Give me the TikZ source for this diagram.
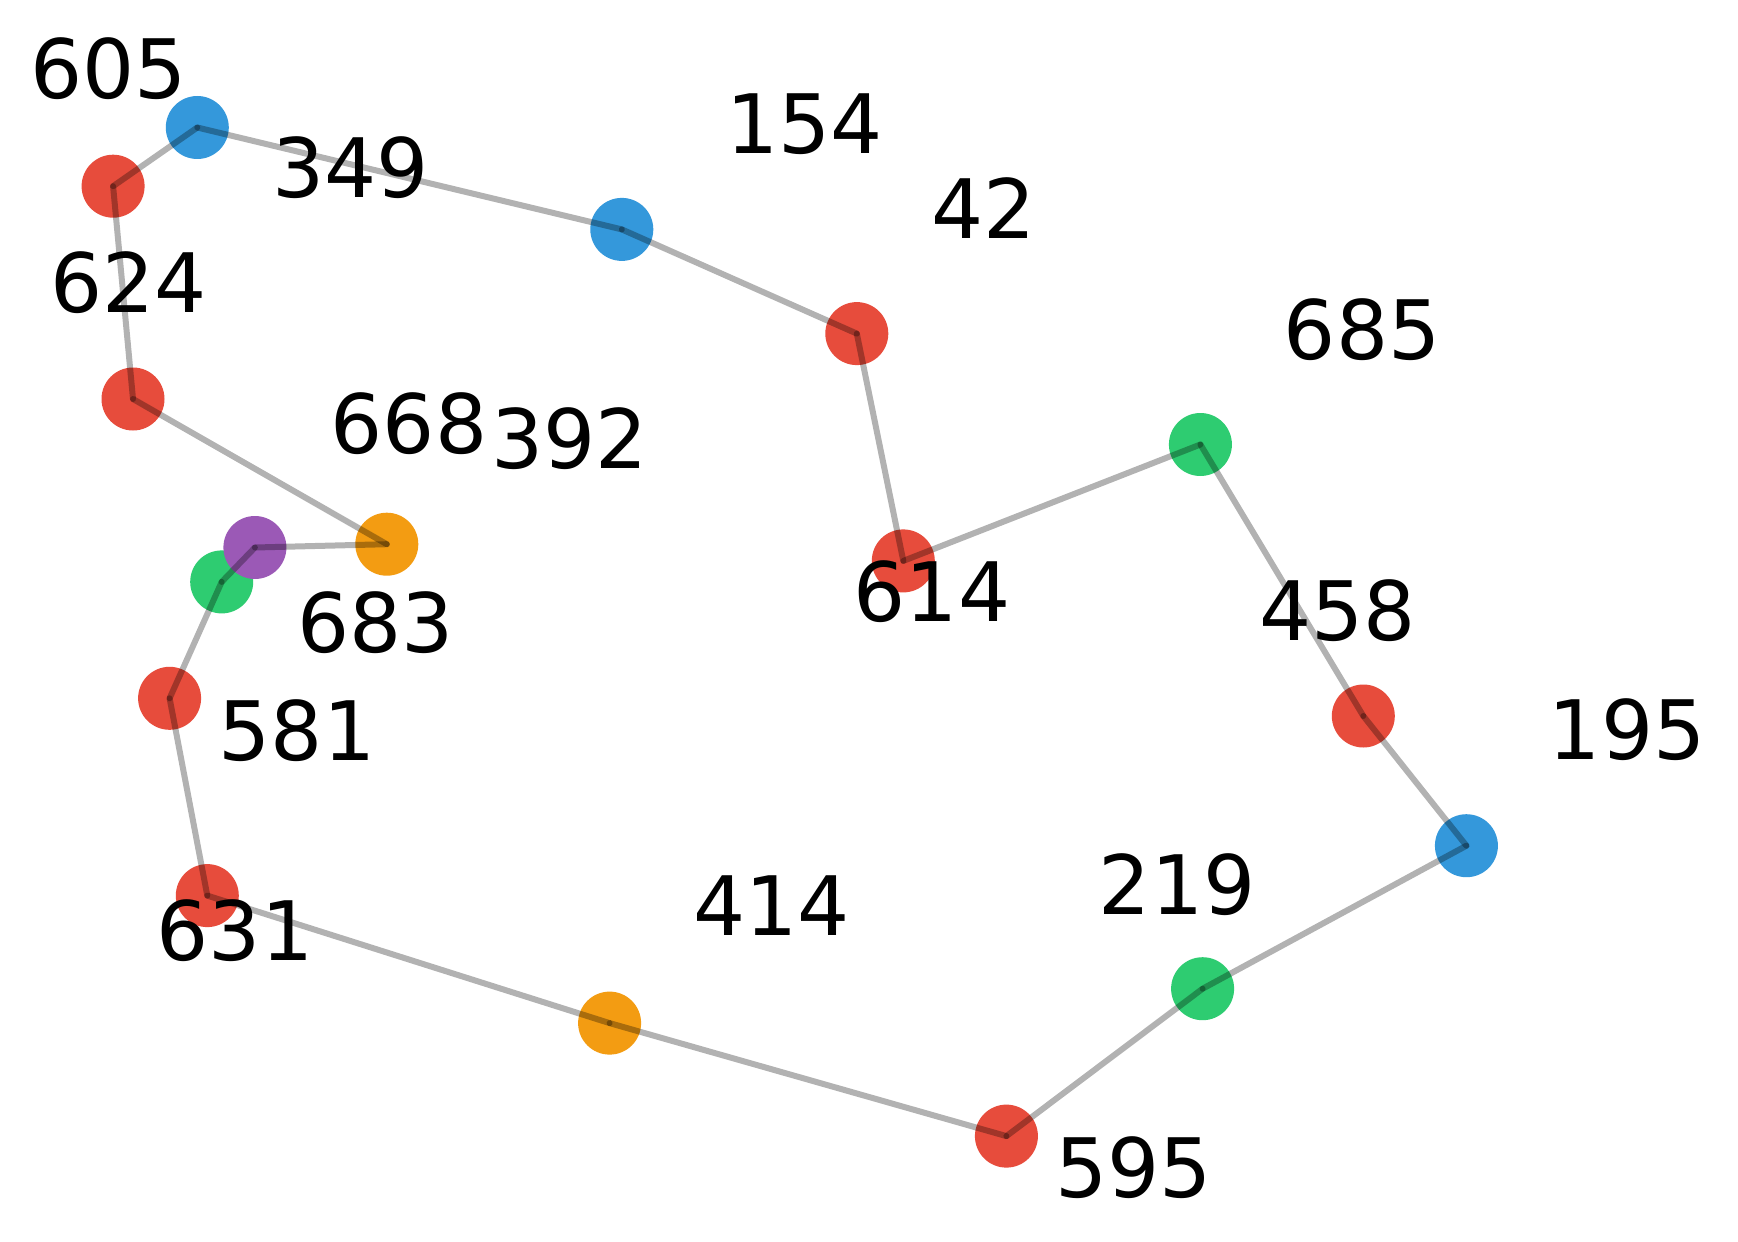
\documentclass[tikz,border=0pt]{standalone}
\usepackage{fontspec}
\setmainfont{DejaVu Sans}
\definecolor{cred}{HTML}{E74C3C}
\definecolor{cblue}{HTML}{3498DB}
\definecolor{cgreen}{HTML}{2ECC71}
\definecolor{corange}{HTML}{F39C12}
\definecolor{cpurple}{HTML}{9B59B6}
\begin{document}
\begin{tikzpicture}[x=0.5pt,y=-0.5pt,
  dot/.style={circle,fill=#1,draw=none,minimum size=31.5pt,inner sep=0pt},
  edge/.style={draw=black,draw opacity=0.3,line width=3pt,line cap=round},
  lbl/.style={anchor=base,inner sep=0pt,font=\fontsize{41}{41}\selectfont}]
\fill[white] (0,0) rectangle (1738,1241);
\useasboundingbox (0,0) rectangle (1738,1241);
\node[dot=cblue]   (n1)  at (197.3,127.5) {};
\node[dot=cred]    (n2)  at (113.1,186.2) {};
\node[dot=cred]    (n3)  at (133.0,399.0) {};
\node[dot=corange] (n4)  at (386.8,544.2) {};
\node[dot=cgreen]  (n6)  at (221.7,581.9) {};
\node[dot=cpurple] (n5)  at (254.9,547.5) {};
\node[dot=cred]    (n7)  at (169.6,698.3) {};
\node[dot=cred]    (n8)  at (207.3,895.6) {};
\node[dot=corange] (n9)  at (609.6,1023.1) {};
\node[dot=cred]    (n10) at (1006.4,1136.1) {};
\node[dot=cgreen]  (n11) at (1202.6,988.7) {};
\node[dot=cblue]   (n12) at (1466.4,845.7) {};
\node[dot=cred]    (n13) at (1363.3,716.0) {};
\node[dot=cgreen]  (n14) at (1200.4,444.5) {};
\node[dot=cred]    (n15) at (903.3,560.9) {};
\node[dot=cred]    (n16) at (856.8,333.6) {};
\node[dot=cblue]   (n17) at (621.8,229.4) {};
\foreach \a/\b in {n1/n2,n2/n3,n3/n4,n4/n5,n5/n6,n6/n7,n7/n8,n8/n9,n9/n10,n10/n11,n11/n12,n12/n13,n13/n14,n14/n15,n15/n16,n16/n17,n17/n1}
  \draw[edge] (\a.center) -- (\b.center);
\node[lbl] (t605) at (108.6,98.5) {605};
\node[lbl] (t349) at (350.3,198) {349};
\node[lbl] (t154) at (804.7,154) {154};
\node[lbl] (t42)  at (983.2,239) {42};
\node[lbl] (t624) at (128.6,312) {624};
\node[lbl] (t685) at (1362.2,359) {685};
\node[lbl] (t668) at (409.0,453) {668};
\node[lbl] (t392) at (569.7,468) {392};
\node[lbl] (t683) at (375.5,652) {683};
\node[lbl] (t614) at (932.0,621) {614};
\node[lbl] (t458) at (1337.8,640.5) {458};
\node[lbl] (t581) at (297.0,760) {581};
\node[lbl] (t195) at (1627.1,759) {195};
\node[lbl] (t219) at (1177.1,914) {219};
\node[lbl] (t414) at (771.4,935) {414};
\node[lbl] (t631) at (235.0,960) {631};
\node[lbl] (t595) at (1133.9,1197) {595};
\end{tikzpicture}
\end{document}
